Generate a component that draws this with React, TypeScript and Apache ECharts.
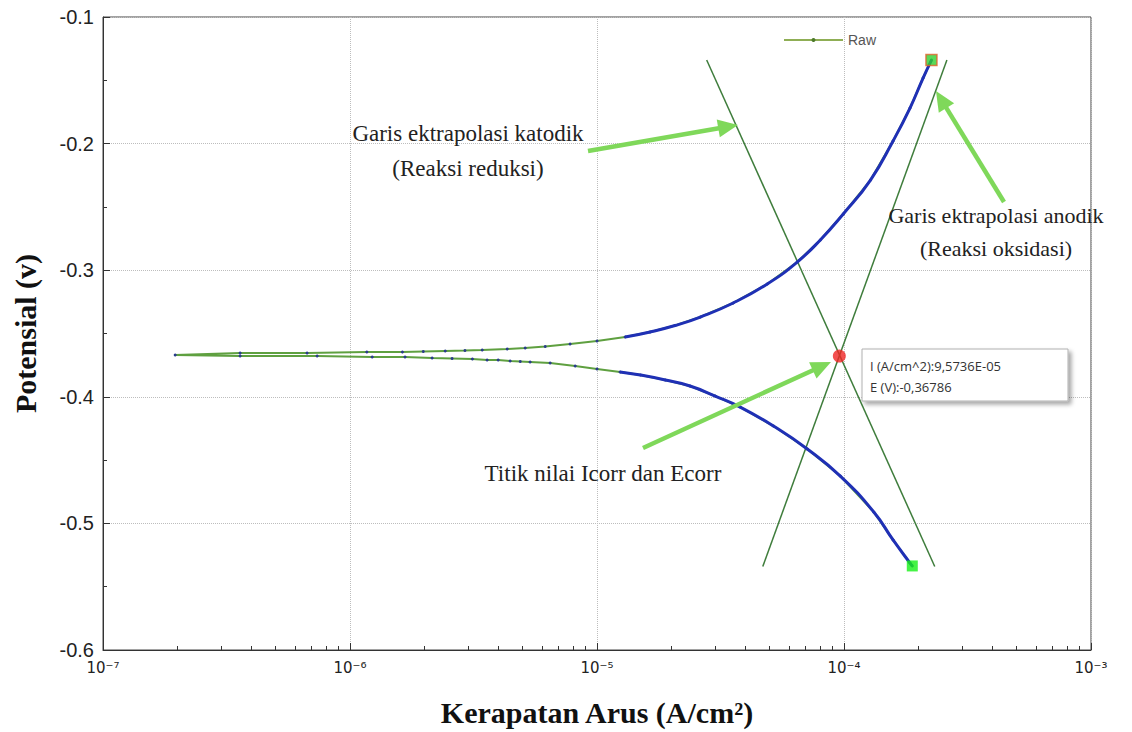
import React, { useEffect, useRef } from "react";
import * as echarts from "echarts";

// Cathodic branch (lower), from the corrosion-potential region outward
const cathodicI = [1.96e-7, 3.59e-7, 7.36e-7, 1.23e-6, 1.67e-6, 2.15e-6, 2.59e-6, 3.13e-6, 3.59e-6, 3.98e-6, 4.45e-6, 4.89e-6, 5.36e-6, 6.46e-6, 8.16e-6, 1.0e-5, 1.24e-5, 1.5e-5, 1.89e-5, 2.38e-5, 3.01e-5, 3.8e-5, 5.18e-5, 7.1e-5, 9.66e-5, 1.32e-4, 1.58e-4, 1.85e-4, 1.89e-4];
const cathodicE = [-0.367, -0.3678, -0.3678, -0.3686, -0.3686, -0.3694, -0.3697, -0.3701, -0.3709, -0.3709, -0.3717, -0.3721, -0.3725, -0.3733, -0.3757, -0.378, -0.3804, -0.3828, -0.3867, -0.3915, -0.3994, -0.4081, -0.4231, -0.4412, -0.4626, -0.491, -0.5131, -0.5313, -0.5336];

// Anodic branch (upper)
const anodicI = [3.59e-7, 6.7e-7, 1.17e-6, 1.63e-6, 1.98e-6, 2.43e-6, 2.92e-6, 3.43e-6, 4.33e-6, 5.12e-6, 6.17e-6, 7.78e-6, 1.0e-5, 1.3e-5, 1.64e-5, 2.07e-5, 2.62e-5, 3.56e-5, 4.89e-5, 6.47e-5, 8.02e-5, 9.93e-5, 1.28e-4, 1.58e-4, 1.85e-4, 2.09e-4, 2.26e-4];
const anodicE = [-0.3654, -0.3654, -0.3646, -0.3646, -0.3642, -0.3638, -0.3634, -0.363, -0.3622, -0.3615, -0.3603, -0.3583, -0.3559, -0.3528, -0.3488, -0.3437, -0.337, -0.3259, -0.3109, -0.2935, -0.2761, -0.2556, -0.2288, -0.1979, -0.1719, -0.1482, -0.134];

// Tafel extrapolation lines
const tafelCathodicI = [2.78e-5, 2.33e-4];
const tafelCathodicE = [-0.134, -0.534];
const tafelAnodicI = [4.69e-5, 2.61e-4];
const tafelAnodicE = [-0.534, -0.134];

// Corrosion point
const icorr = 9.5736e-5;
const ecorr = -0.36786;

// Axes
const xMin = 1e-7;
const xMax = 1e-3;
const xExpMin = -7;
const xExpMax = -3;
const xDecades = [1e-7, 1e-6, 1e-5, 1e-4];
const minorMultipliers = [2, 3, 4, 5, 6, 7, 8, 9];
const yMin = -0.6;
const yMax = -0.1;
const yStep = 0.1;

const legendName = "Raw";
const annotations = {
  katodik: ["Garis ektrapolasi katodik", "(Reaksi reduksi)"],
  anodik: ["Garis ektrapolasi anodik", "(Reaksi oksidasi)"],
  titik: "Titik nilai Icorr dan Ecorr",
};

const SUP: Record<string, string> = {
  "-": "⁻", "0": "⁰", "1": "¹", "2": "²", "3": "³", "4": "⁴",
  "5": "⁵", "6": "⁶", "7": "⁷", "8": "⁸", "9": "⁹",
};

function pairs(xs: number[], ys: number[]) {
  return xs.map((x, i) => [x, ys[i]]);
}

function formatSci(v: number) {
  const [m, e] = v.toExponential(4).split("e");
  const exp = parseInt(e, 10);
  const sign = exp < 0 ? "-" : "+";
  const abs = Math.abs(exp).toString().padStart(2, "0");
  return m.replace(".", ",") + "E" + sign + abs;
}

function arrow(x1: number, y1: number, x2: number, y2: number, color: string) {
  const dx = x2 - x1;
  const dy = y2 - y1;
  const len = Math.sqrt(dx * dx + dy * dy);
  const ux = dx / len;
  const uy = dy / len;
  const headLen = 20;
  const headW = 9;
  const bx = x2 - ux * headLen;
  const by = y2 - uy * headLen;
  const px = -uy;
  const py = ux;
  return {
    type: "group",
    z: 100,
    children: [
      {
        type: "line",
        z: 100,
        shape: { x1, y1, x2: bx + ux * 2, y2: by + uy * 2 },
        style: { stroke: color, lineWidth: 4.5 },
      },
      {
        type: "polygon",
        z: 100,
        shape: {
          points: [
            [x2, y2],
            [bx + px * headW, by + py * headW],
            [bx - px * headW, by - py * headW],
          ],
        },
        style: { fill: color },
      },
    ],
  };
}

export default function App() {
  const ref = useRef<HTMLDivElement>(null);

  useEffect(() => {
    if (!ref.current) return;
    const chart = echarts.init(ref.current, undefined, { renderer: "svg" });

    const rawData = [
      ...pairs(cathodicI, cathodicE).reverse(),
      ...pairs(anodicI, anodicE),
    ];
    const threshold = 0.012;
    const blueUpper = pairs(anodicI, anodicE).filter((p) => Math.abs(p[1] - ecorr) > threshold);
    const blueLower = pairs(cathodicI, cathodicE).filter((p) => Math.abs(p[1] - ecorr) > threshold);

    const minorVals: number[] = [];
    xDecades.forEach((d) => minorMultipliers.forEach((m) => minorVals.push(d * m)));

    const serif = "'Liberation Serif', 'Times New Roman', serif";
    const sans = "'Liberation Sans', Arial, sans-serif";
    const annColor = "#222";
    const annFont = "23px " + serif;
    const arrowColor = "#7fd85a";

    const lastUp = anodicI.length - 1;
    const lastLo = cathodicI.length - 1;

    const xi = 1; // index of the main (data) x axis

    chart.setOption({
      animation: false,
      backgroundColor: "#ffffff",
      textStyle: { fontFamily: sans },
      grid: {
        left: 103,
        right: 41,
        top: 17,
        bottom: 82,
        show: true,
        borderColor: "#444",
        borderWidth: 1,
      },
      legend: {
        left: 783,
        top: 33,
        padding: 0,
        itemWidth: 59,
        itemHeight: 5,
        selectedMode: false,
        textStyle: { color: "#555", fontSize: 14, fontFamily: sans },
        data: [
          {
            name: legendName,
            itemStyle: { color: "#4d7a2a" },
            lineStyle: { color: "#8fae55", width: 2 },
          },
        ],
      },
      xAxis: [
        {
          // minor ticks of the log axis
          type: "log",
          logBase: 10,
          min: xMin,
          max: xMax,
          position: "bottom",
          offset: 0,
          axisLine: { show: false },
          axisLabel: { show: false },
          splitLine: { show: false },
          axisTick: {
            show: true,
            inside: true,
            length: 4,
            customValues: minorVals,
            lineStyle: { color: "#333" },
          },
        },
        {
          // data axis
          type: "log",
          logBase: 10,
          min: xMin,
          max: xMax,
          position: "bottom",
          offset: 0,
          axisLine: { show: true, lineStyle: { color: "#333", width: 1 } },
          axisTick: { show: true, inside: true, length: 7, lineStyle: { color: "#333" } },
          axisLabel: { show: false },
          splitLine: { show: true, lineStyle: { color: "#bdbdbd", type: "dotted", width: 1 } },
          name: "Kerapatan Arus (A/cm²)",
          nameLocation: "middle",
          nameGap: 47,
          nameTextStyle: { fontFamily: serif, fontWeight: "bold", fontSize: 30, color: "#111" },
        },
        {
          // decade labels (exponent scale)
          type: "value",
          min: xExpMin,
          max: xExpMax,
          interval: 1,
          position: "bottom",
          offset: 0,
          axisLine: { show: false },
          axisTick: { show: false },
          splitLine: { show: false },
          axisLabel: {
            show: true,
            margin: 10,
            color: "#222",
            fontSize: 15,
            fontFamily: "'DejaVu Sans', sans-serif",
            formatter: (v: number) => {
              const e = String(Math.round(v));
              return "10" + e.split("").map((c) => SUP[c] || c).join("");
            },
          },
        },
      ],
      yAxis: {
        type: "value",
        min: yMin,
        max: yMax,
        interval: yStep,
        axisLine: { show: true, lineStyle: { color: "#333", width: 1 } },
        axisTick: { show: true, inside: true, length: 7, lineStyle: { color: "#333" } },
        minorTick: { show: true, splitNumber: 2, length: 4, lineStyle: { color: "#333" } },
        axisLabel: {
          margin: 9,
          fontSize: 20,
          fontFamily: sans,
          color: "#222",
          formatter: (v: number) => v.toFixed(1),
        },
        splitLine: { show: true, lineStyle: { color: "#bdbdbd", type: "dotted", width: 1 } },
        name: "Potensial (v)",
        nameLocation: "middle",
        nameGap: 63,
        nameTextStyle: { fontFamily: serif, fontWeight: "bold", fontSize: 30, color: "#111" },
      },
      series: [
        {
          name: "tafelCathodic",
          type: "line",
          xAxisIndex: xi,
          silent: true,
          data: pairs(tafelCathodicI, tafelCathodicE),
          symbol: "none",
          lineStyle: { color: "#3f7d3c", width: 1.5 },
          z: 2,
        },
        {
          name: "tafelAnodic",
          type: "line",
          xAxisIndex: xi,
          silent: true,
          data: pairs(tafelAnodicI, tafelAnodicE),
          symbol: "none",
          lineStyle: { color: "#3f7d3c", width: 1.5 },
          z: 2,
        },
        {
          name: legendName,
          type: "line",
          xAxisIndex: xi,
          silent: true,
          data: rawData,
          symbol: "circle",
          symbolSize: 3,
          showSymbol: true,
          itemStyle: { color: "#2a3c8c" },
          lineStyle: { color: "#5fa040", width: 2 },
          z: 3,
        },
        {
          name: "blueUpper",
          type: "line",
          xAxisIndex: xi,
          silent: true,
          data: blueUpper,
          smooth: true,
          symbol: "none",
          lineStyle: { color: "#1f30b5", width: 3 },
          z: 4,
        },
        {
          name: "blueLower",
          type: "line",
          xAxisIndex: xi,
          silent: true,
          data: blueLower,
          smooth: true,
          symbol: "none",
          lineStyle: { color: "#1f30b5", width: 3 },
          z: 4,
        },
        {
          name: "ends",
          type: "scatter",
          xAxisIndex: xi,
          silent: true,
          symbol: "rect",
          symbolSize: 11,
          z: 6,
          data: [
            {
              value: [anodicI[lastUp], anodicE[lastUp]],
              itemStyle: { color: "#2fcf2f", borderColor: "#e0622a", borderWidth: 1.5 },
            },
            {
              value: [cathodicI[lastLo], cathodicE[lastLo]],
              itemStyle: { color: "#16f016", borderWidth: 0 },
            },
          ],
        },
        {
          name: "ecorr",
          type: "scatter",
          xAxisIndex: xi,
          silent: true,
          symbol: "circle",
          symbolSize: 13,
          z: 7,
          itemStyle: { color: "#f02424" },
          data: [[icorr, ecorr]],
        },
      ],
      graphic: [
        {
          type: "text",
          z: 100,
          style: {
            text: annotations.katodik[0] + "\n" + annotations.katodik[1],
            x: 468,
            y: 151,
            align: "center",
            verticalAlign: "middle",
            font: annFont,
            fill: annColor,
            lineHeight: 35,
          },
        },
        {
          type: "text",
          z: 100,
          style: {
            text: annotations.anodik[0] + "\n" + annotations.anodik[1],
            x: 996,
            y: 232,
            align: "center",
            verticalAlign: "middle",
            font: "22px " + serif,
            fill: annColor,
            lineHeight: 33,
          },
        },
        {
          type: "text",
          z: 100,
          style: {
            text: annotations.titik,
            x: 603,
            y: 473,
            align: "center",
            verticalAlign: "middle",
            font: annFont,
            fill: annColor,
          },
        },
        arrow(588, 151, 738, 125, arrowColor),
        arrow(1004, 202, 936, 91, arrowColor),
        arrow(643, 448, 831, 362, arrowColor),
        {
          type: "rect",
          z: 110,
          shape: { x: 862, y: 349, width: 206, height: 52 },
          style: {
            fill: "#ffffff",
            stroke: "#b0b0b0",
            lineWidth: 1,
            shadowBlur: 4,
            shadowOffsetX: 3,
            shadowOffsetY: 3,
            shadowColor: "rgba(0,0,0,0.35)",
          },
        },
        {
          type: "text",
          z: 111,
          style: {
            text: "I (A/cm^2):" + formatSci(icorr) + "\nE (V):" + ecorr.toFixed(5).replace(".", ","),
            x: 870,
            y: 355,
            font: "13px 'Open Sans', sans-serif",
            fill: "#333",
            lineHeight: 21,
          },
        },
      ],
    });

    return () => chart.dispose();
  }, []);

  return (
    <div
      ref={ref}
      style={{ position: "fixed", left: 0, top: 0, width: 1132, height: 732, background: "#fff" }}
    />
  );
}
